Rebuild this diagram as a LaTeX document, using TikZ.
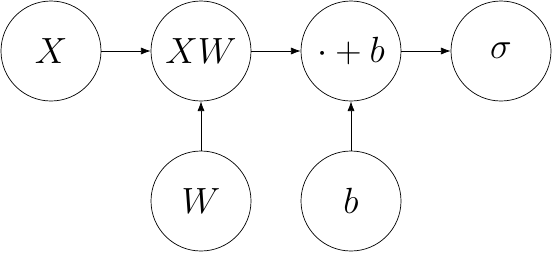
\documentclass[tikz,border=0pt]{standalone}
\usetikzlibrary{arrows.meta}
\begin{document}
\begin{tikzpicture}[
  vnode/.style={circle,draw,line width=0.4pt,minimum size=2cm,inner sep=0pt,font=\huge},
  conn/.style={-{Latex[length=5.5pt,width=4pt]},line width=0.4pt}
]
\useasboundingbox (0,0) rectangle (11.04,5.04);
\node[vnode] (x) at (1.02,4.02) {$X$};
\node[vnode] (xw) at (4.02,4.02) {$XW$};
\node[vnode] (pb) at (7.02,4.02) {$\cdot+b$};
\node[vnode] (s) at (10.02,4.02) {$\sigma$};
\node[vnode] (w) at (4.02,1.02) {$W$};
\node[vnode] (b) at (7.02,1.02) {$b$};
\draw[conn] (x) -- (xw);
\draw[conn] (xw) -- (pb);
\draw[conn] (pb) -- (s);
\draw[conn] (w) -- (xw);
\draw[conn] (b) -- (pb);
\end{tikzpicture}
\end{document}
